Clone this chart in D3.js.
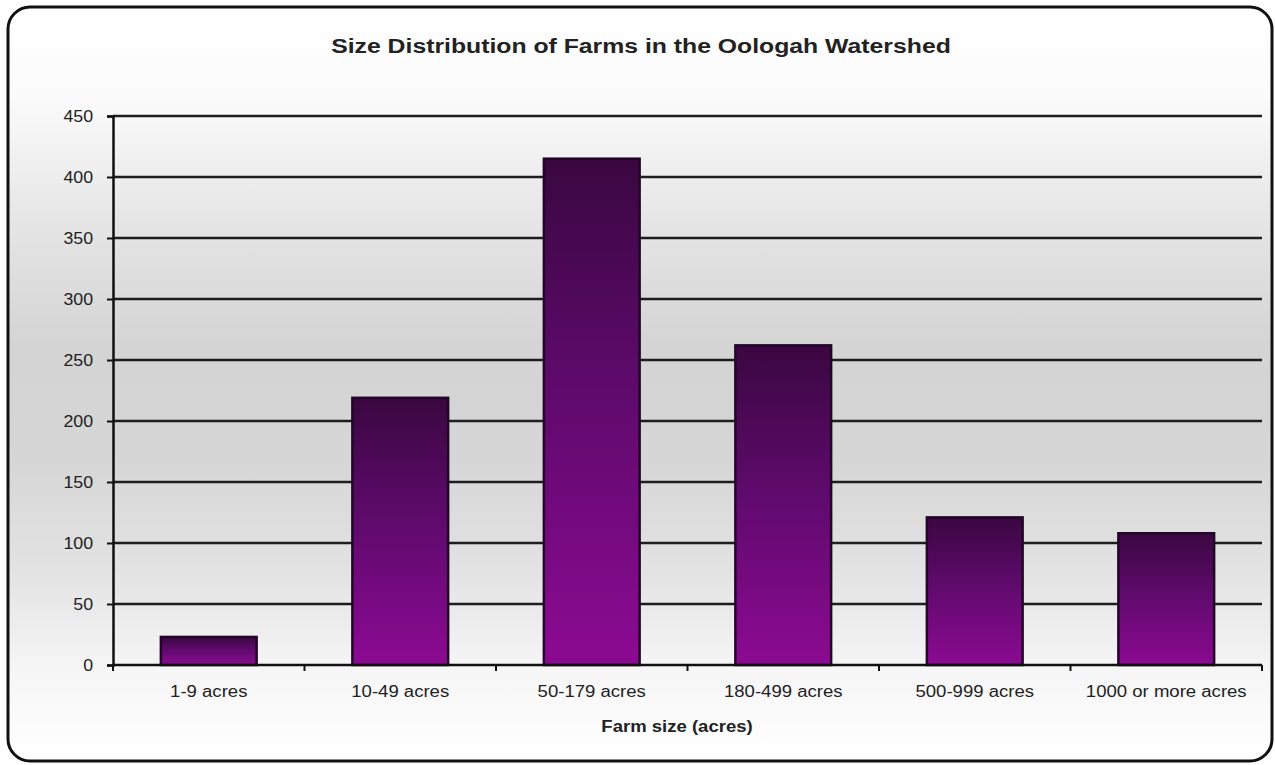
<!DOCTYPE html>
<html>
<head>
<meta charset="utf-8">
<script src="https://cdn.jsdelivr.net/npm/d3@7"></script>
<style>
  html, body { margin: 0; padding: 0; background: #fff; }
  svg { display: block; }
  text { font-family: "Liberation Sans", Arial, sans-serif; fill: #222; }
</style>
</head>
<body>
<svg id="chart" width="1275" height="765"></svg>
<script>
// Farm counts by size class
const categories = ["1-9 acres", "10-49 acres", "50-179 acres", "180-499 acres", "500-999 acres", "1000 or more acres"];
const farmCounts = [23, 219, 415, 262, 121, 108];
const yTicks = [0, 50, 100, 150, 200, 250, 300, 350, 400, 450];
const titleText = "Size Distribution of Farms in the Oologah Watershed";
const xTitleText = "Farm size (acres)";

const svg = d3.select("#chart");
const W = 1275, H = 765;
const margin = { left: 113, right: 13, top: 116, bottom: 100 };
const stretch = 1.16; // text is set slightly wide

const defs = svg.append("defs");

// soft grey backdrop: white at the top, grey through the middle, pale at the bottom
const bg = defs.append("linearGradient").attr("id", "bgGrad")
  .attr("x1", 0).attr("y1", 0).attr("x2", 0).attr("y2", 1);
[[0, "#ffffff"], [0.12, "#fbfbfb"], [0.28, "#e6e6e6"], [0.45, "#d4d4d4"], [0.6, "#d6d6d6"], [0.75, "#e3e3e3"], [0.88, "#f6f6f6"], [1, "#ffffff"]]
  .forEach(([o, c]) => bg.append("stop").attr("offset", o).attr("stop-color", c));

// bar fill: deep plum at the top fading to magenta at the base
const barGrad = defs.append("linearGradient").attr("id", "barGrad")
  .attr("x1", 0).attr("y1", 0).attr("x2", 0).attr("y2", 1);
[[0, "#3a0740"], [0.45, "#5e0a6c"], [1, "#8c0a92"]]
  .forEach(([o, c]) => barGrad.append("stop").attr("offset", o).attr("stop-color", c));

// rounded frame
svg.append("rect")
  .attr("x", 8).attr("y", 7).attr("width", 1264).attr("height", 754)
  .attr("rx", 22).attr("ry", 22)
  .attr("fill", "url(#bgGrad)")
  .attr("stroke", "#111").attr("stroke-width", 3);

const x = d3.scaleBand()
  .domain(categories)
  .range([margin.left, W - margin.right])
  .paddingInner(0.5).paddingOuter(0.25);

const y = d3.scaleLinear()
  .domain([0, 450])
  .range([665, margin.top]);

// horizontal gridlines
svg.append("g")
  .selectAll("line")
  .data(yTicks.filter(d => d > 0))
  .join("line")
  .attr("x1", margin.left).attr("x2", W - margin.right)
  .attr("y1", d => y(d)).attr("y2", d => y(d))
  .attr("stroke", "#1e1e1e").attr("stroke-width", 2.5);

// bars
svg.append("g")
  .selectAll("rect")
  .data(categories)
  .join("rect")
  .attr("x", d => x(d))
  .attr("width", x.bandwidth())
  .attr("y", (d, i) => y(farmCounts[i]))
  .attr("height", (d, i) => y(0) - y(farmCounts[i]))
  .attr("fill", "url(#barGrad)")
  .attr("stroke", "#24052a").attr("stroke-width", 2.5);

// y axis
const yAxis = svg.append("g")
  .attr("transform", `translate(${margin.left},0)`)
  .call(d3.axisLeft(y).tickValues(yTicks).tickSize(6).tickPadding(12));
yAxis.select(".domain").attr("stroke", "#111").attr("stroke-width", 2.5);
yAxis.selectAll(".tick line").attr("stroke", "#111").attr("stroke-width", 2);
yAxis.selectAll(".tick text")
  .style("font-size", "16px").style("font-family", "Liberation Sans, Arial, sans-serif")
  .attr("fill", "#222")
  .attr("transform", "scale(1.11,1)");

// x axis: ticks sit at the boundaries between categories
const xg = svg.append("g");
xg.append("line")
  .attr("x1", margin.left).attr("x2", W - margin.right)
  .attr("y1", y(0)).attr("y2", y(0))
  .attr("stroke", "#111").attr("stroke-width", 2.5);
const step = (W - margin.right - margin.left) / categories.length;
xg.selectAll("line.tk")
  .data(d3.range(categories.length + 1))
  .join("line").attr("class", "tk")
  .attr("x1", i => margin.left + i * step).attr("x2", i => margin.left + i * step)
  .attr("y1", y(0)).attr("y2", y(0) + 6)
  .attr("stroke", "#111").attr("stroke-width", 2);
xg.selectAll("text")
  .data(categories)
  .join("text")
  .attr("transform", d => `translate(${x(d) + x.bandwidth() / 2},697) scale(${stretch},1)`)
  .attr("text-anchor", "middle")
  .style("font-size", "16px")
  .text(d => d);

// x axis title
svg.append("text")
  .attr("transform", "translate(677,732) scale(1.09,1)")
  .attr("text-anchor", "middle")
  .style("font-size", "17px").style("font-weight", "bold")
  .text(xTitleText);

// chart title
svg.append("text")
  .attr("transform", "translate(641,53) scale(1.18,1)")
  .attr("text-anchor", "middle")
  .style("font-size", "21px").style("font-weight", "bold")
  .text(titleText);
</script>
</body>
</html>
